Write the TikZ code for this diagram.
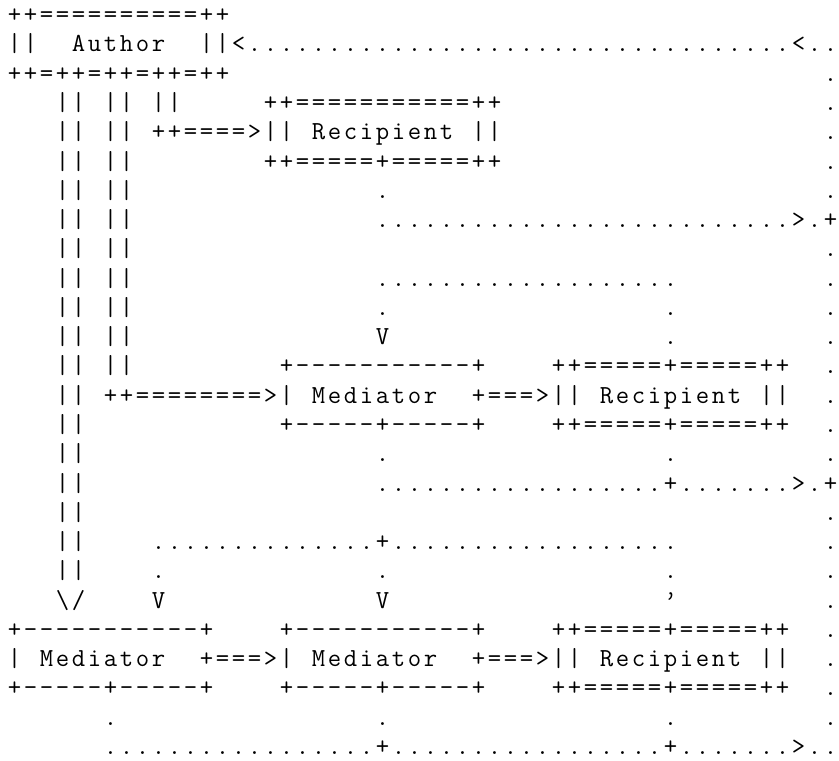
\documentclass[tikz,border=0pt]{standalone}
\newlength\chw
\setlength\chw{16pt}
\newcommand\chrun[1]{\chrunA#1\relax}
\newcommand\chrunA[1]{\ifx\relax#1\else\makebox[\chw][c]{#1}\expandafter\chrunA\fi}
\tikzset{ch/.style={anchor=base west, inner sep=0pt, outer sep=0pt,
  font=\ttfamily\fontsize{26}{26}\selectfont, text=black}}
\newcommand\seg[3]{\node[ch] (r#1c#2) at ({6.5+16*#2},{-(22.7+29.27*#1)}) {\chrun{#3}};}
\newcommand\dotrun[3]{\foreach \cc in {#2,...,#3}{\seg{#1}{\cc}{.}}}
\begin{document}
\begin{tikzpicture}[x=1pt,y=1pt]
\fill[white] (0,0) rectangle (839,-761);
\useasboundingbox (0,0) rectangle (839,-761);
% Author box
\seg{0}{0}{++==========++}
\seg{1}{0}{||}
\seg{1}{4}{Author}
\seg{1}{12}{||<}
\dotrun{1}{15}{48}
\seg{1}{49}{<..}
\seg{2}{0}{++=++=++=++=++}
% double vertical bars
\foreach \r in {3,...,19}{\seg{\r}{3}{||}}
\foreach \r in {3,...,12}{\seg{\r}{6}{||}}
\seg{3}{9}{||}
% right-hand dotted return column
\foreach \r in {2,...,6,8,9,...,15,17,18,...,24}{\seg{\r}{51}{.}}
% first recipient
\seg{3}{16}{++===========++}
\seg{4}{9}{++====>||}
\seg{4}{19}{Recipient}
\seg{4}{29}{||}
\seg{5}{16}{++=====+=====++}
\seg{6}{23}{.}
\dotrun{7}{23}{48}
\seg{7}{49}{>.+}
% loop to middle mediator
\dotrun{9}{23}{41}
\seg{10}{23}{.}
\seg{10}{41}{.}
\seg{11}{23}{V}
\seg{11}{41}{.}
% middle row
\seg{12}{17}{+-----------+}
\seg{12}{34}{++=====+=====++}
\seg{13}{6}{++========>|}
\seg{13}{19}{Mediator}
\seg{13}{29}{+===>||}
\seg{13}{37}{Recipient}
\seg{13}{47}{||}
\seg{14}{17}{+-----+-----+}
\seg{14}{34}{++=====+=====++}
\seg{15}{23}{.}
\seg{15}{41}{.}
\dotrun{16}{23}{40}
\seg{16}{41}{+}
\dotrun{16}{42}{48}
\seg{16}{49}{>.+}
% loop to bottom row
\dotrun{18}{9}{22}
\seg{18}{23}{+}
\dotrun{18}{24}{41}
\seg{19}{9}{.}
\seg{19}{23}{.}
\seg{19}{41}{.}
\seg{20}{3}{\textbackslash/}
\seg{20}{9}{V}
\seg{20}{23}{V}
\seg{20}{41}{\textquoteright}
% bottom row
\seg{21}{0}{+-----------+}
\seg{21}{17}{+-----------+}
\seg{21}{34}{++=====+=====++}
\seg{22}{0}{|}
\seg{22}{2}{Mediator}
\seg{22}{12}{+===>|}
\seg{22}{19}{Mediator}
\seg{22}{29}{+===>||}
\seg{22}{37}{Recipient}
\seg{22}{47}{||}
\seg{23}{0}{+-----+-----+}
\seg{23}{17}{+-----+-----+}
\seg{23}{34}{++=====+=====++}
\seg{24}{6}{.}
\seg{24}{23}{.}
\seg{24}{41}{.}
\dotrun{25}{6}{22}
\seg{25}{23}{+}
\dotrun{25}{24}{40}
\seg{25}{41}{+}
\dotrun{25}{42}{48}
\seg{25}{49}{>..}
\end{tikzpicture}
\end{document}
